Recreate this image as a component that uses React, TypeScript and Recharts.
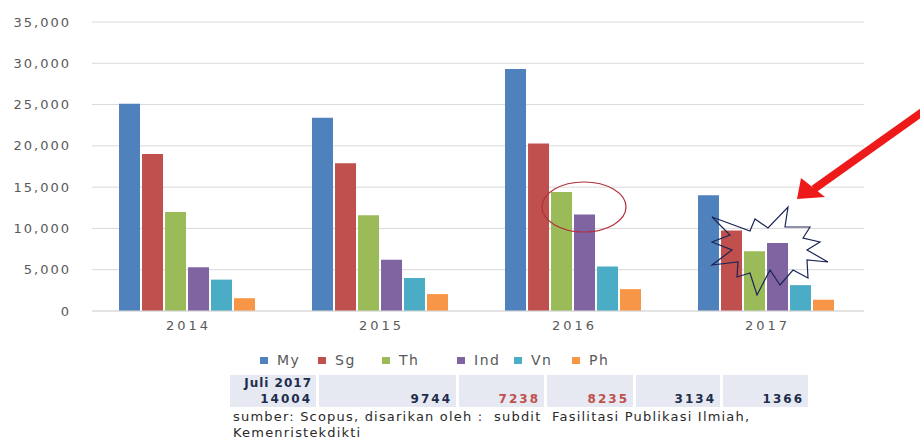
import React from 'react';
import { BarChart, Bar, XAxis, YAxis, CartesianGrid } from 'recharts';

const years = ['2014', '2015', '2016', '2017'];
const my = [25100, 23400, 29300, 14004];
const sg = [19000, 17900, 20300, 9744];
const th = [12000, 11600, 14400, 7238];
const ind = [5300, 6200, 11700, 8235];
const vn = [3800, 4000, 5400, 3134];
const ph = [1550, 2050, 2650, 1366];
const yTicks = [0, 5000, 10000, 15000, 20000, 25000, 30000, 35000];

const series = [
  { key: 'My', values: my, color: '#4f81bd' },
  { key: 'Sg', values: sg, color: '#c0504d' },
  { key: 'Th', values: th, color: '#9bbb59' },
  { key: 'Ind', values: ind, color: '#8064a2' },
  { key: 'Vn', values: vn, color: '#4bacc6' },
  { key: 'Ph', values: ph, color: '#f79646' },
];

// table under the legend: latest (Juli 2017) figures, Th and Ind in red
const tableLabel = 'Juli 2017';
const redKeys = ['Th', 'Ind'];
const sourceLines = [
  'sumber: Scopus, disarikan oleh :  subdit  Fasilitasi Publikasi Ilmiah,',
  'Kemenristekdikti',
];

const data = years.map((year, i) => {
  const row: Record<string, string | number> = { year };
  series.forEach((s) => (row[s.key] = s.values[i]));
  return row;
});

const cellWidths = [86, 137, 85, 86, 84, 85];
const legendWidths = [58, 64, 75, 57, 58, 40];
const font = '"DejaVu Sans", sans-serif';

// hand drawn marks on top of the chart
const starPoints =
  '712,217 750,231 755,219 768,228 788,207 785,227 810,227 803,238 820,242 807,250 828,262 807,260 808,278 793,270 780,285 770,270 757,295 750,273 737,277 738,262 712,265 732,250 712,242 730,235';

const Annotations = () => (
  <svg width={920} height={441} style={{ position: 'absolute', left: 0, top: 0, pointerEvents: 'none' }}>
    <ellipse cx={584} cy={207} rx={42} ry={25} fill="none" stroke="#b0303c" strokeWidth={1.2} />
    <polygon points={starPoints} fill="none" stroke="#1c2656" strokeWidth={1.2} strokeLinejoin="miter" />
    <line x1={925} y1={110} x2={814} y2={189} stroke="#ee1a1a" strokeWidth={8} />
    <polygon points="797,199 801,178 825,197" fill="#ee1a1a" />
  </svg>
);

const App = () => {
  const last = years.length - 1;
  return (
    <div style={{ position: 'absolute', left: 0, top: 0, width: 920, height: 441, background: '#fff', fontFamily: font }}>
      <BarChart
        width={920}
        height={345}
        data={data}
        margin={{ top: 22, right: 56, left: 0, bottom: 0 }}
        barCategoryGap="14%"
        barGap={2}
      >
        <CartesianGrid vertical={false} stroke="#d9d9d9" />
        <XAxis
          dataKey="year"
          height={34}
          axisLine={{ stroke: '#d9d9d9' }}
          tickLine={false}
          tickSize={0}
          tickMargin={10}
          tick={{ fill: '#595959', fontSize: 13, fontFamily: font, letterSpacing: 3 }}
        />
        <YAxis
          width={92}
          domain={[0, 35000]}
          ticks={yTicks}
          axisLine={false}
          tickLine={false}
          tickSize={0}
          tickMargin={21}
          tickFormatter={(v: number) => v.toLocaleString('en-US')}
          tick={{ fill: '#595959', fontSize: 13, fontFamily: font, letterSpacing: 2 }}
        />
        {series.map((s) => (
          <Bar key={s.key} dataKey={s.key} fill={s.color} isAnimationActive={false} />
        ))}
      </BarChart>

      <div
        style={{
          position: 'absolute',
          left: 260,
          top: 352,
          display: 'flex',
          alignItems: 'center',
          fontSize: 14,
          letterSpacing: 1.5,
          color: '#595959',
          lineHeight: '16px',
        }}
      >
        {series.map((s, i) => (
          <div key={s.key} style={{ display: 'flex', alignItems: 'center', width: legendWidths[i] }}>
            <span style={{ width: 8, height: 7, background: s.color, marginRight: 9, display: 'inline-block' }} />
            <span>{s.key}</span>
          </div>
        ))}
      </div>

      <div style={{ position: 'absolute', left: 230, top: 375, display: 'flex', gap: 3 }}>
        {series.map((s, i) => (
          <div
            key={s.key}
            style={{
              width: cellWidths[i],
              height: 32,
              background: '#e6e9f1',
              textAlign: 'right',
              paddingRight: 4,
              boxSizing: 'border-box',
              fontSize: 12,
              fontWeight: 'bold',
              letterSpacing: 2,
              lineHeight: '16px',
              color: redKeys.includes(s.key) ? '#c0504d' : '#1f2d4d',
            }}
          >
            <div style={{ color: '#1f2d4d', letterSpacing: 1 }}>{i === 0 ? tableLabel : '\u00a0'}</div>
            <div>{s.values[last]}</div>
          </div>
        ))}
      </div>

      <div
        style={{
          position: 'absolute',
          left: 233,
          top: 409,
          fontSize: 13,
          letterSpacing: 1.2,
          lineHeight: '16px',
          color: '#2a2a2a',
          whiteSpace: 'pre',
        }}
      >
        {sourceLines.map((l) => (
          <div key={l}>{l}</div>
        ))}
      </div>

      <Annotations />
    </div>
  );
};

export default App;
